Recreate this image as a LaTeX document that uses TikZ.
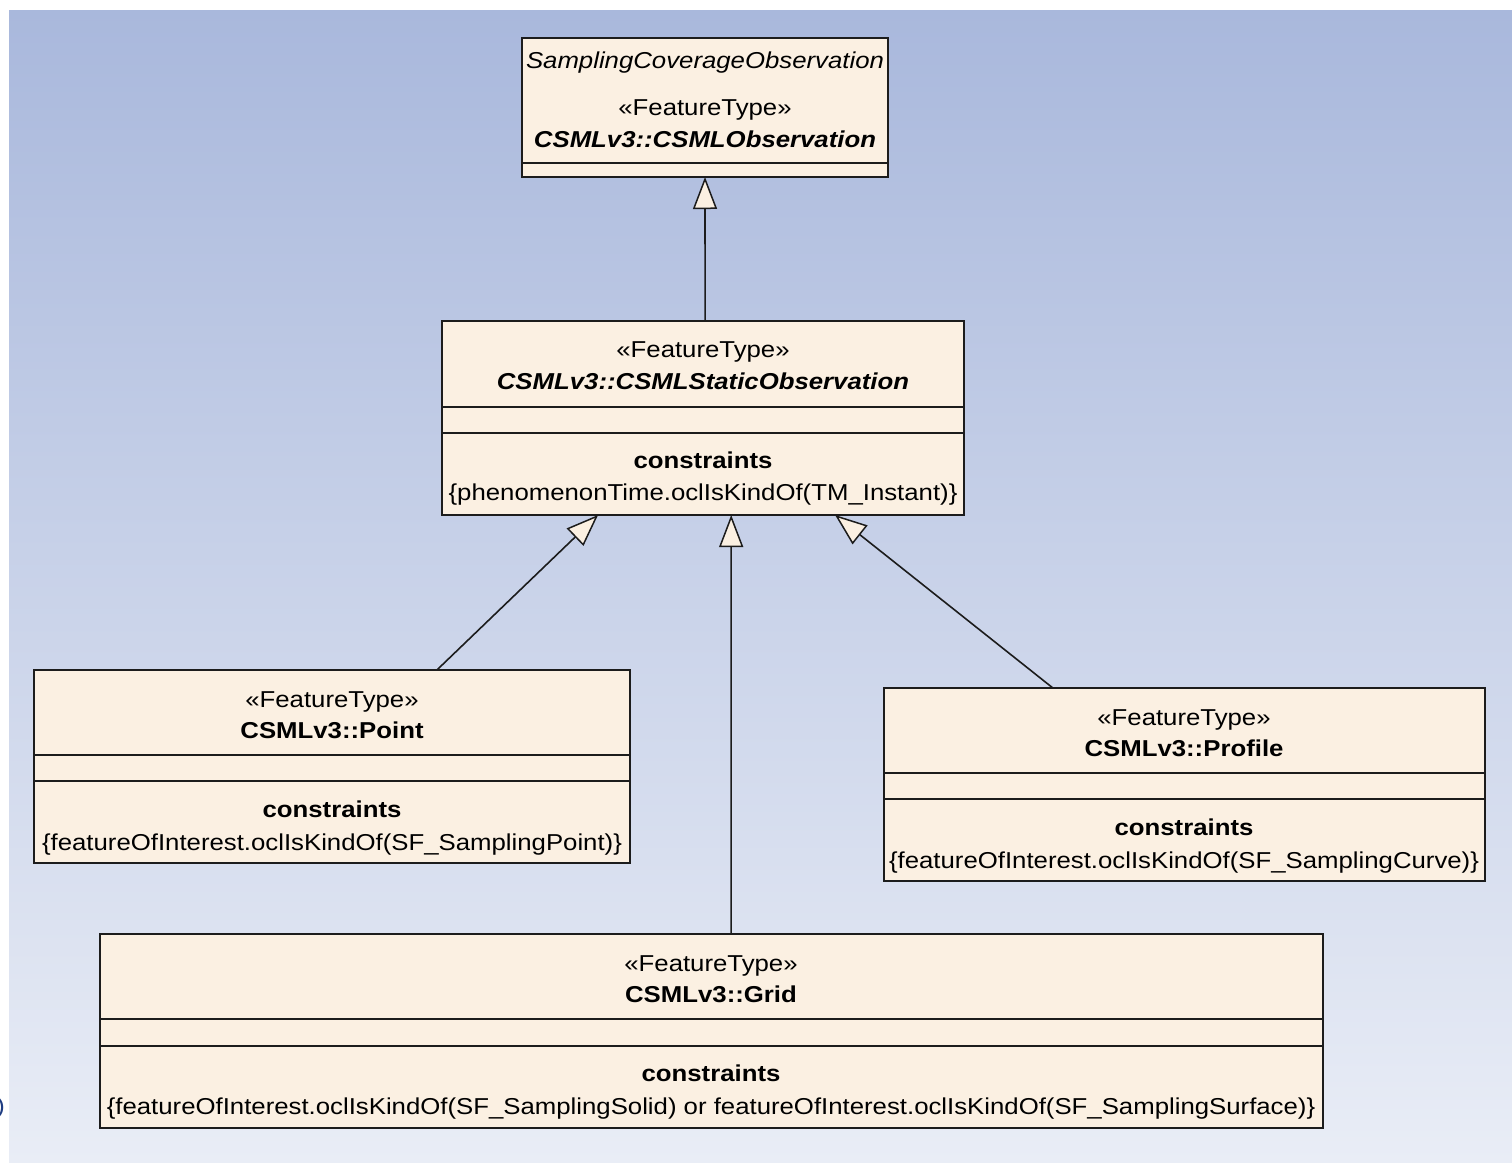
\documentclass[tikz,border=0pt]{standalone}
\usepackage{fontspec}
\setmainfont{Liberation Sans}[FakeStretch=1.12]
\usetikzlibrary{arrows.meta,calc}
\definecolor{boxfill}{RGB}{251,240,226}
\definecolor{edgecol}{RGB}{28,28,28}
\definecolor{bgtop}{RGB}{169,184,220}
\definecolor{bgbot}{RGB}{233,237,246}
\definecolor{strayblue}{RGB}{30,60,130}

\begin{document}
\begin{tikzpicture}[x=1pt,y=-1pt,
  umlbox/.style={draw=edgecol, line width=1.8pt, fill=boxfill, rectangle,
    inner sep=0pt, outer sep=0pt, anchor=north west},
  sep/.style={draw=edgecol, line width=1.8pt},
  lbl/.style={anchor=base, inner sep=0pt, font=\fontsize{23}{27}\selectfont},
  gen/.style={draw=edgecol, line width=1.6pt,
    -{Triangle[length=32pt, width=24pt, fill=boxfill, line width=1.5pt]}}]

% canvas
\fill[white] (0,0) rectangle (1512,1162);
\useasboundingbox (0,0) rectangle (1512,1162);
\shade[top color=bgtop, bottom color=bgbot] (9,10) rectangle (1513,1163);
\node[anchor=east, inner sep=0pt, text=strayblue, font=\fontsize{22}{26}\selectfont] (stray) at (5,1108) {)};

% ---------- CSMLObservation ----------
\node[umlbox, minimum width=366pt, minimum height=139pt] (obs) at (522,38) {};
\draw[sep] ($(obs.north west)+(0,125)$) -- ($(obs.north east)+(0,125)$);
\node[lbl] (obsA) at (705,68) {\itshape SamplingCoverageObservation};
\node[lbl] (obsB) at (705,115) {«FeatureType»};
\node[lbl] (obsC) at (705,147) {\bfseries\itshape CSMLv3::CSMLObservation};

% ---------- CSMLStaticObservation ----------
\node[umlbox, minimum width=522pt, minimum height=194pt] (stat) at (442,321) {};
\draw[sep] ($(stat.north west)+(0,86)$) -- ($(stat.north east)+(0,86)$);
\draw[sep] ($(stat.north west)+(0,112)$) -- ($(stat.north east)+(0,112)$);
\node[lbl] (statA) at (703,357) {«FeatureType»};
\node[lbl] (statB) at (703,389) {\bfseries\itshape CSMLv3::CSMLStaticObservation};
\node[lbl] (statC) at (703,468) {\bfseries constraints};
\node[lbl] (statD) at (703,500) {\{phenomenonTime.oclIsKindOf(TM\_Instant)\}};

% ---------- Point ----------
\node[umlbox, minimum width=596pt, minimum height=193pt] (point) at (34,670) {};
\draw[sep] ($(point.north west)+(0,85)$) -- ($(point.north east)+(0,85)$);
\draw[sep] ($(point.north west)+(0,111)$) -- ($(point.north east)+(0,111)$);
\node[lbl] (pointA) at (332,707) {«FeatureType»};
\node[lbl] (pointB) at (332,738) {\bfseries CSMLv3::Point};
\node[lbl] (pointC) at (332,817) {\bfseries constraints};
\node[lbl] (pointD) at (332,850) {\{featureOfInterest.oclIsKindOf(SF\_SamplingPoint)\}};

% ---------- Profile ----------
\node[umlbox, minimum width=601pt, minimum height=193pt] (prof) at (884,688) {};
\draw[sep] ($(prof.north west)+(0,85)$) -- ($(prof.north east)+(0,85)$);
\draw[sep] ($(prof.north west)+(0,111)$) -- ($(prof.north east)+(0,111)$);
\node[lbl] (profA) at (1184,725) {«FeatureType»};
\node[lbl] (profB) at (1184,756) {\bfseries CSMLv3::Profile};
\node[lbl] (profC) at (1184,835) {\bfseries constraints};
\node[lbl] (profD) at (1184,868) {\{featureOfInterest.oclIsKindOf(SF\_SamplingCurve)\}};

% ---------- Grid ----------
\node[umlbox, minimum width=1223pt, minimum height=194pt] (grid) at (100,934) {};
\draw[sep] ($(grid.north west)+(0,85)$) -- ($(grid.north east)+(0,85)$);
\draw[sep] ($(grid.north west)+(0,112)$) -- ($(grid.north east)+(0,112)$);
\node[lbl] (gridA) at (711,971) {«FeatureType»};
\node[lbl] (gridB) at (711,1002) {\bfseries CSMLv3::Grid};
\node[lbl] (gridC) at (711,1081) {\bfseries constraints};
\node[lbl] (gridD) at (711,1114) {\{featureOfInterest.oclIsKindOf(SF\_SamplingSolid) or featureOfInterest.oclIsKindOf(SF\_SamplingSurface)\}};

% ---------- generalisations ----------
\draw[gen] ($(stat.north west)!0.504!(stat.north east)$) -- (obs.south);
\draw[gen] ($(point.north west)!0.676!(point.north east)$) -- ($(stat.south west)!0.299!(stat.south east)$);
\draw[gen] ($(grid.north west)!0.516!(grid.north east)$) -- ($(stat.south west)!0.554!(stat.south east)$);
\draw[gen] ($(prof.north west)!0.281!(prof.north east)$) -- ($(stat.south west)!0.753!(stat.south east)$);
\end{tikzpicture}
\end{document}
